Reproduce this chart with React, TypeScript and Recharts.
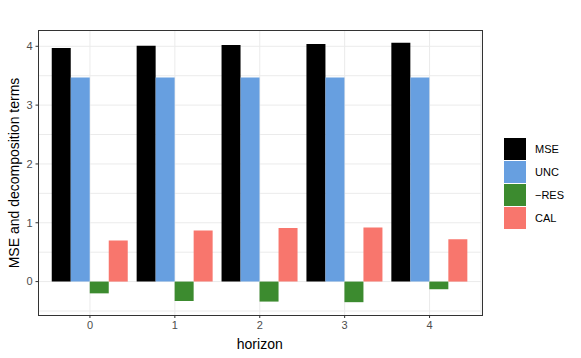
import { BarChart, Bar, XAxis, YAxis, CartesianGrid } from "recharts";

const horizons = ["0", "1", "2", "3", "4"];
const mse = [3.97, 4.01, 4.02, 4.04, 4.06];
const unc = [3.47, 3.47, 3.47, 3.47, 3.47];
const negRes = [-0.2, -0.33, -0.34, -0.35, -0.13];
const cal = [0.7, 0.87, 0.91, 0.92, 0.72];
const yTicks = [0, 1, 2, 3, 4];
const gridLines = [-0.5, 0, 0.5, 1, 1.5, 2, 2.5, 3, 3.5, 4];

const series = [
  { key: "mse", name: "MSE", color: "#000000" },
  { key: "unc", name: "UNC", color: "#679FE0" },
  { key: "res", name: "\u2212RES", color: "#3C8B2F" },
  { key: "cal", name: "CAL", color: "#F8766D" },
];

const data = horizons.map((h, i) => ({
  horizon: h,
  mse: mse[i],
  unc: unc[i],
  res: negRes[i],
  cal: cal[i],
}));

const FONT = "'Liberation Sans', Arial, sans-serif";

const YTitle = (props: any) => {
  const vb = props.viewBox || { x: 0, y: 31, width: 38, height: 284 };
  const cx = 14;
  const cy = vb.y + vb.height / 2;
  return (
    <text
      x={cx}
      y={cy}
      transform={`rotate(-90, ${cx}, ${cy})`}
      textAnchor="middle"
      dominantBaseline="central"
      fill="#000"
      fontSize={14}
      fontFamily={FONT}
    >
      MSE and decomposition terms
    </text>
  );
};

export default function App() {
  return (
    <div style={{ position: "absolute", left: 0, top: 0, width: 581, height: 358, background: "#fff" }}>
      <BarChart
        width={581}
        height={358}
        data={data}
        margin={{ top: 31, right: 100, bottom: 0, left: 0 }}
        barCategoryGap="5%"
        barGap={0}
        style={{ fontFamily: FONT }}
      >
        <CartesianGrid stroke="#EBEBEB" horizontalValues={gridLines} strokeWidth={1} />
        <XAxis
          dataKey="horizon"
          height={43}
          padding={{ left: 9, right: 9 }}
          tick={{ fill: "#4D4D4D", stroke: "none", fontSize: 11 }}
          tickLine={{ stroke: "#333333" }}
          axisLine={false}
          tickSize={3}
          tickMargin={3}
          label={{ value: "horizon", position: "insideBottom", offset: 9, fill: "#000", fontSize: 14 }}
        />
        <YAxis
          width={38.5}
          domain={[-0.568, 4.26]}
          ticks={yTicks}
          allowDataOverflow
          tick={{ fill: "#4D4D4D", stroke: "none", fontSize: 11 }}
          tickLine={{ stroke: "#333333" }}
          axisLine={false}
          tickSize={3}
          tickMargin={3}
          label={<YTitle />}
        />
        {series.map((s) => (
          <Bar key={s.key} dataKey={s.key} name={s.name} fill={s.color} isAnimationActive={false} />
        ))}
      </BarChart>
      <div
        style={{
          position: "absolute",
          left: 38,
          top: 30,
          width: 443,
          height: 284,
          border: "1px solid #333333",
          pointerEvents: "none",
        }}
      />
      <div
        style={{
          position: "absolute",
          left: 504,
          top: 137,
          fontFamily: FONT,
          fontSize: 11,
          color: "#000",
        }}
      >
        {series.map((s) => (
          <div key={s.key} style={{ display: "flex", alignItems: "center", height: 23 }}>
            <div style={{ width: 22, height: 22, background: s.color, marginRight: 9 }} />
            <span>{s.name}</span>
          </div>
        ))}
      </div>
    </div>
  );
}
